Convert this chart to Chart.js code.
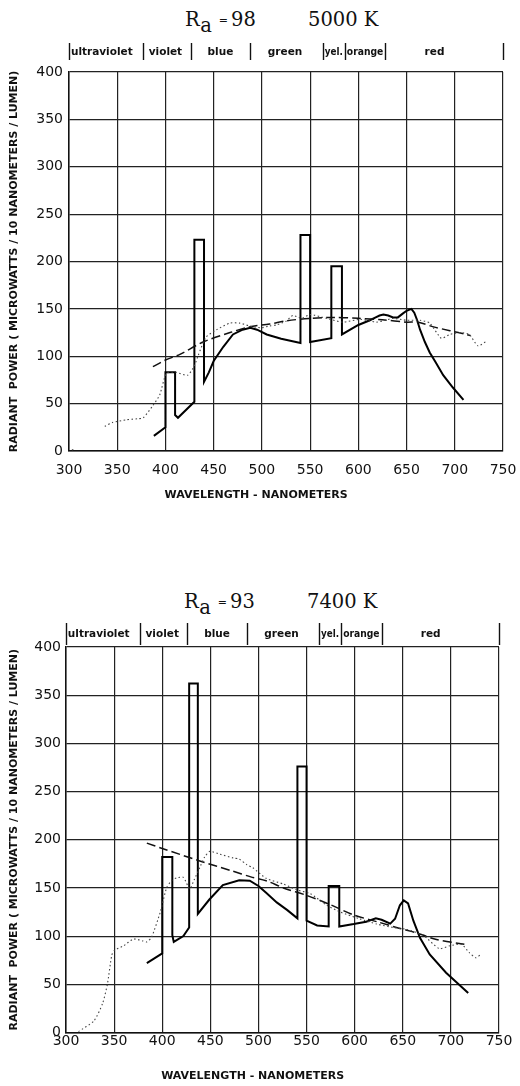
<!DOCTYPE html>
<html><head><meta charset="utf-8">
<script src="https://cdn.jsdelivr.net/npm/chart.js@4.4.1/dist/chart.umd.min.js"></script>
<style>
html,body{margin:0;padding:0;background:#fff;}
body{width:520px;height:1086px;position:relative;overflow:hidden;}
.ttl{position:absolute;font-family:"DejaVu Serif",serif;font-size:19.5px;line-height:24px;color:#111;white-space:nowrap;}
.sub{position:relative;top:6px;}
.eq{font-size:11px;position:relative;top:-2px;margin:0 3px 0 7px;}
canvas{position:absolute;left:0;}
</style></head><body>
<div class="ttl" style="left:185px;top:8px">R<span class="sub">a</span><span class="eq">=</span>98</div>
<div class="ttl" style="left:308px;top:8px">5000 K</div>
<div class="ttl" style="left:184px;top:590px">R<span class="sub">a</span><span class="eq">=</span>93</div>
<div class="ttl" style="left:307px;top:590px">7400 K</div>
<canvas id="c1" width="520" height="480" style="top:30px"></canvas>
<canvas id="c2" width="520" height="516" style="top:570px"></canvas>
<script>
// ---- shared labels ----
const bandEdges   = [300, 377, 426, 488, 563, 586, 628, 750];
const bandNames   = ['ultraviolet', 'violet', 'blue', 'green', 'yel.', 'orange', 'red'];
const bandLabelAt = [334, 400, 457, 524, 574.5, 607, 679];
const yTitle = 'RADIANT  POWER ( MICROWATTS / 10 NANOMETERS / LUMEN)';
const xTitle = 'WAVELENGTH - NANOMETERS';

// ---- chart 1 : Ra = 98, 5000 K ----
const lamp98_nm  = [388, 400, 400, 410, 410, 413, 430, 430, 440, 440, 445, 450, 460, 470, 480, 488, 495, 505, 520, 540, 540, 550, 550, 572, 572, 583, 583, 600, 612, 618, 622, 626, 631, 636, 641, 646, 650, 655, 658, 661, 664, 669, 674, 680, 688, 698, 709];
const lamp98_val = [16, 25, 83, 83, 38, 35, 52, 223, 223, 73, 83, 95, 110, 123, 128, 130, 128, 123, 118.5, 114, 228, 228, 115, 119, 195, 195, 123, 133, 138, 141, 143, 144, 143, 141, 141, 145, 148, 150, 146, 138, 128, 115, 104, 94, 80, 67, 54];
const ref5000_nm  = [387, 400, 415, 439, 467, 487, 508, 526, 550, 575, 600, 625, 650, 662, 678, 695, 712, 716];
const ref5000_val = [89, 96, 102, 115, 125, 131, 134, 137.5, 140, 141, 140, 138.5, 136, 136, 131, 127, 123, 122];
const day5000_nm  = [303, 306, 310, 337, 345, 360, 371, 377, 387, 394, 401, 411, 423, 430, 434, 442, 453, 467, 477, 487, 499, 508, 515, 525, 532, 541, 550, 567, 584, 602, 619, 628, 636, 650, 664, 674, 686, 695, 705, 715, 724, 733];
const day5000_val = [1, 2, null, 26, 30, 33, 34, 35, 48, 59, 82, 83, 80, 90, 101, 120, 128, 135, 135, 132, 130, 132, 133, 137, 143, 140, 144, 140, 136, 139, 136, 138, 140, 138, 138, 135, 119, 123, 125, 123, 111, 116];

// ---- chart 2 : Ra = 93, 7400 K ----
const lamp93_nm  = [384, 400, 400, 410.5, 410.5, 412, 422, 428, 428, 437, 437, 449, 463, 480, 491, 500, 508, 519, 530, 540.5, 540.5, 550, 550, 561, 573, 573, 584, 584, 599, 612, 622, 628, 637, 642, 647, 651, 655.5, 661, 668, 678, 695, 718];
const lamp93_val = [72, 82, 182, 182, 101, 94, 100, 109, 362, 362, 123, 138, 153, 158, 157.5, 152, 145, 135, 127, 118.5, 276, 276, 116, 111, 110, 152, 152, 110, 112.5, 115, 118.5, 117, 113, 118, 132, 137, 134, 116, 98, 81, 62, 41];
const ref7400_nm  = [384, 400, 439, 473, 492, 508, 526, 550, 575, 599, 623, 647, 664, 685, 714];
const ref7400_val = [196.5, 191, 178, 167.5, 161.5, 157.5, 150, 142.3, 132.5, 122, 115, 108, 103.5, 96.5, 91.5];
const day7400_nm  = [313, 329, 338, 343, 347.5, 350, 360, 370, 380, 384, 389, 398, 404.5, 410, 415, 422, 428.5, 433, 439, 444, 449.5, 460, 474, 480, 488, 494, 508, 526, 540, 554, 571, 585, 605, 623, 640, 654, 671, 688, 699, 711, 719, 726, 731];
const day7400_val = [1, 12, 30, 50, 80, 85, 90, 97, 95, 94, 99, 125, 150, 158, 160.5, 161, 149, 158, 171, 182, 188, 185, 181, 180, 174, 171, 160, 154, 148, 144, 132, 125, 118, 112.5, 109, 107, 101, 87, 90, 91.5, 83, 77.5, 81];

const pts = (xs, ys) => xs.map((x, i) => ({x: x, y: ys[i]}));

const bandPlugin = {
  id: 'bandHeader',
  afterDraw(chart, args, o) {
    const {ctx, chartArea} = chart;
    const xs = chart.scales.x;
    ctx.save();
    ctx.strokeStyle = '#111';
    ctx.lineWidth = 1.4;
    bandEdges.forEach(e => {
      const px = Math.round(xs.getPixelForValue(e)) + 0.5;
      ctx.beginPath();
      ctx.moveTo(px, chartArea.top + o.sepTop);
      ctx.lineTo(px, chartArea.top + o.sepBottom);
      ctx.stroke();
    });
    ctx.fillStyle = '#111';
    ctx.font = 'bold 10.5px "DejaVu Sans"';
    ctx.textAlign = 'center';
    ctx.textBaseline = 'middle';
    bandNames.forEach((n, i) => {
      const lo = xs.getPixelForValue(bandEdges[i]), hi = xs.getPixelForValue(bandEdges[i + 1]);
      ctx.fillText(n, xs.getPixelForValue(bandLabelAt[i]), chartArea.top + o.textY, hi - lo - 4);
    });
    ctx.font = 'bold 11px "DejaVu Sans"';
    ctx.fillText(xTitle, xs.getPixelForValue(494), chartArea.bottom + o.xTitleY);
    ctx.restore();
  }
};

function makeChart(id, lamp, ref, day, lay) {
  const tickFont = {family: 'DejaVu Sans', size: 14, lineHeight: 1.2};
  return new Chart(document.getElementById(id), {
    type: 'scatter',
    data: {
      datasets: [
        {data: day, showLine: true, borderColor: '#444', borderWidth: 1.1, borderDash: [1.5, 2.5], pointRadius: 0, tension: 0.2},
        {data: ref, showLine: true, borderColor: '#111', borderWidth: 1.5, borderDash: [9, 4], pointRadius: 0, tension: 0.3},
        {data: lamp, showLine: true, borderColor: '#000', borderWidth: 2, pointRadius: 0, tension: 0}
      ]
    },
    options: {
      responsive: false,
      animation: false,
      events: [],
      layout: {padding: {top: lay.top, right: lay.right, left: 0, bottom: 0}},
      plugins: {
        legend: {display: false},
        tooltip: {enabled: false},
        bandHeader: {sepTop: lay.sepTop, sepBottom: lay.sepBottom, textY: lay.textY, xTitleY: lay.xTitleY}
      },
      scales: {
        x: {
          type: 'linear', min: 300, max: 750,
          ticks: {stepSize: 50, padding: lay.xPad, font: tickFont, color: '#111', maxRotation: 0, autoSkip: false},
          grid: {color: '#222', lineWidth: 1.2, drawTicks: false},
          border: {color: '#111', width: 1.5},
          afterFit(s) { s.height = lay.xH; s.paddingLeft = 0; s.paddingRight = 0; }
        },
        y: {
          min: 0, max: 400,
          ticks: {stepSize: 50, padding: lay.yPad, font: tickFont, color: '#111'},
          grid: {color: '#222', lineWidth: 1.2, drawTicks: false},
          border: {color: '#111', width: 1.5},
          title: {display: true, text: yTitle, color: '#111', font: {family: 'DejaVu Sans', size: 11, weight: 'bold'}, padding: {top: 8, bottom: 0}},
          afterFit(s) { s.width = lay.yW; s.paddingTop = 0; s.paddingBottom = 0; }
        }
      }
    },
    plugins: [bandPlugin]
  });
}

makeChart('c1', pts(lamp98_nm, lamp98_val), pts(ref5000_nm, ref5000_val), pts(day5000_nm, day5000_val),
  {top: 42, right: 17, yW: 69, xH: 59, xPad: 11, yPad: 6, sepTop: -29, sepBottom: -12, textY: -20, xTitleY: 44});
makeChart('c2', pts(lamp93_nm, lamp93_val), pts(ref7400_nm, ref7400_val), pts(day7400_nm, day7400_val),
  {top: 77, right: 21, yW: 66, xH: 53.5, xPad: 0, yPad: 5, sepTop: -24, sepBottom: -2, textY: -13, xTitleY: 44});
</script>
</body></html>
